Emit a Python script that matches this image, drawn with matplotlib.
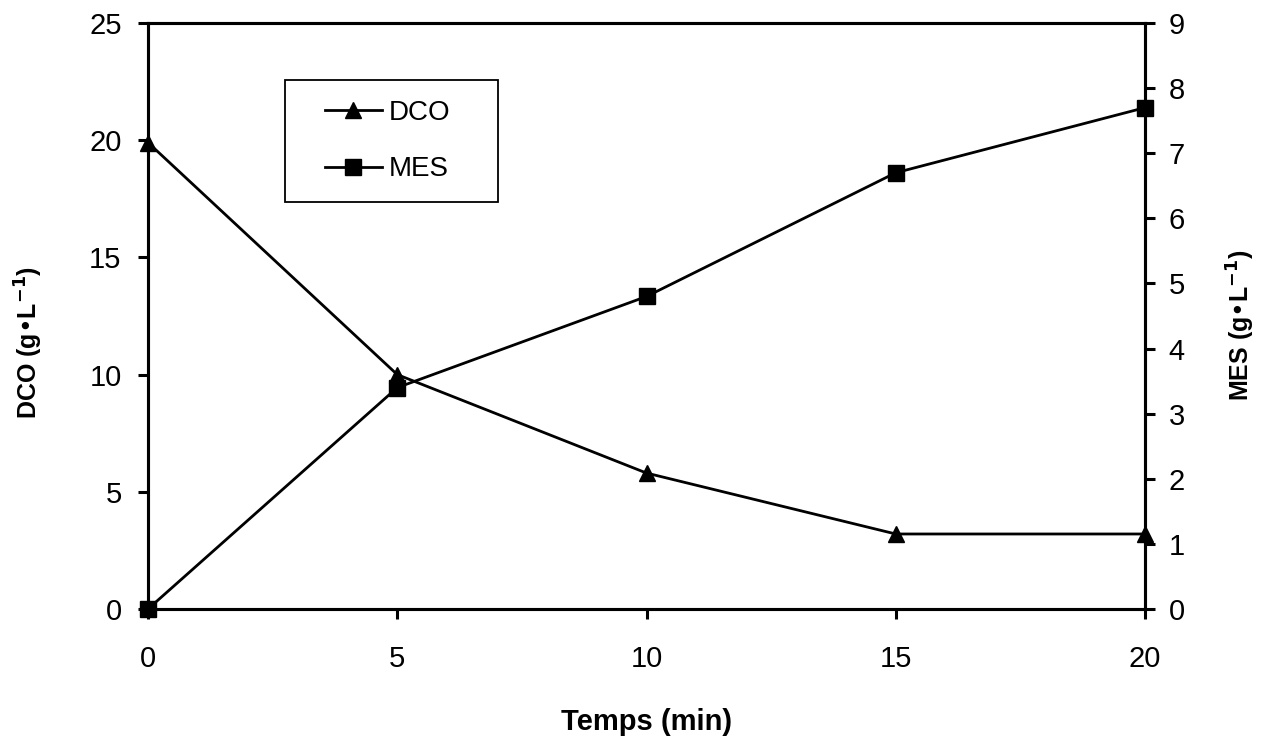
import matplotlib.pyplot as plt
from matplotlib.patches import Rectangle

# Données
temps = [0, 5, 10, 15, 20]
dco = [19.9, 10.0, 5.8, 3.2, 3.2]
mes = [0.0, 3.4, 4.8, 6.7, 7.7]

plt.rcParams['font.family'] = ['Liberation Sans', 'DejaVu Sans']

W, H = 1265, 740
fig = plt.figure(figsize=(W / 100, H / 100), dpi=100)
ax = fig.add_axes([148 / W, 1 - 609 / H, 997 / W, 586 / H])
ax2 = ax.twinx()

l1, = ax.plot(temps, dco, color='black', lw=2.0, marker='^', ms=12, clip_on=False, zorder=3)
l2, = ax2.plot(temps, mes, color='black', lw=2.0, marker='s', ms=12, clip_on=False, zorder=3)

ax.set_xlim(0, 20)
ax.set_ylim(0, 25)
ax2.set_ylim(0, 9)
ax.set_xticks([0, 5, 10, 15, 20])
ax.set_yticks([0, 5, 10, 15, 20, 25])
ax2.set_yticks(range(10))

for a in (ax, ax2):
    for s in a.spines.values():
        s.set_linewidth(2.2)
    a.tick_params(direction='out', length=7, width=2.2, labelsize=21)
ax.tick_params(axis='x', pad=19)
ax.tick_params(axis='y', pad=12)
ax2.tick_params(axis='y', pad=10)

ax.set_xlabel('Temps (min)', fontsize=21, fontweight='bold')
ax.xaxis.set_label_coords(0.5, (609 - 708) / 586)
ax.set_ylabel(r'DCO (g•L$^{\mathbf{-1}}$)', fontsize=18, fontweight='bold')
ax.yaxis.set_label_coords((45 - 148) / 997, (609 - 342) / 586)
ax2.set_ylabel(r'MES (g•L$^{\mathbf{-1}}$)', fontsize=18, fontweight='bold')
ax2.yaxis.set_label_coords((1225 - 148) / 997, (609 - 325) / 586)

# légende avec cadre dessiné à part
leg = fig.legend([l1, l2], ['DCO', 'MES'], loc='center left',
                 bbox_to_anchor=(325 / W, 1 - 141 / H), fontsize=20,
                 frameon=False, handlelength=2.05, handletextpad=0.25,
                 borderpad=0, labelspacing=1.1, borderaxespad=0)
fig.patches.append(Rectangle((285 / W, 1 - 202 / H), 213 / W, 122 / H,
                             transform=fig.transFigure, fill=False,
                             edgecolor='black', lw=1.3))

fig.savefig('out.png', dpi=100)
